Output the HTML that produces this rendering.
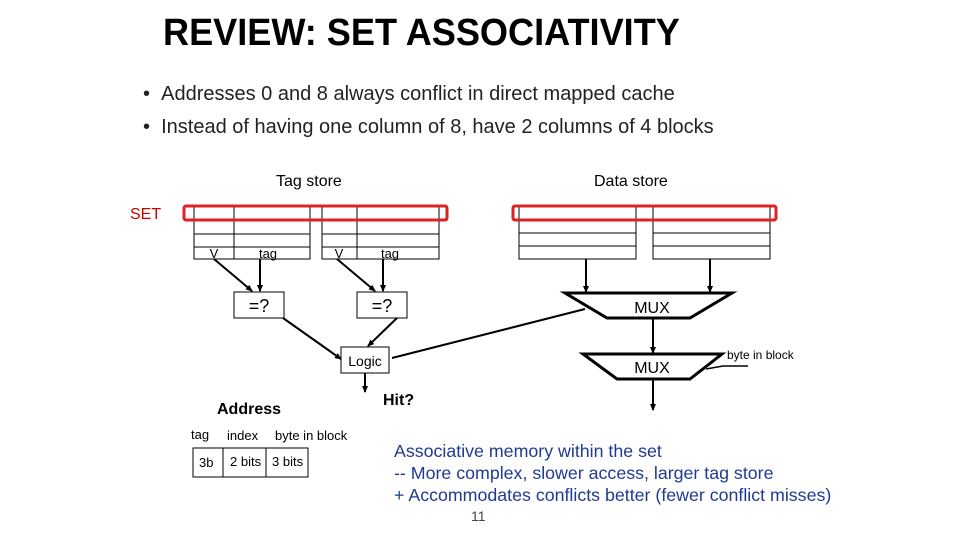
<!DOCTYPE html>
<html><head><style>
body{margin:0;width:960px;height:540px;background:#fff;overflow:hidden;position:relative;font-family:"Liberation Sans",sans-serif}
.t{position:absolute;white-space:nowrap}
</style></head><body>
<div class="t" style="left:163px;top:12px;font-size:38px;font-weight:bold;transform:scaleX(0.95);transform-origin:0 0">REVIEW: SET ASSOCIATIVITY</div>
<div class="t" style="left:143px;top:83px;font-size:20px;color:#222">•&nbsp;&nbsp;Addresses 0 and 8 always conflict in direct mapped cache</div>
<div class="t" style="left:143px;top:116px;font-size:20px;color:#222">•&nbsp;&nbsp;Instead of having one column of 8, have 2 columns of 4 blocks</div>
<svg width="960" height="540" style="position:absolute;left:0;top:0" font-family="Liberation Sans,sans-serif">
<defs><marker id="a" markerWidth="8" markerHeight="8" refX="6" refY="4" orient="auto" markerUnits="userSpaceOnUse"><path d="M0,1 L7,4 L0,7z" fill="#000"/></marker></defs>
<text x="276" y="186" font-size="16">Tag store</text>
<text x="594" y="186" font-size="16">Data store</text>
<text x="130" y="219" font-size="16" fill="#c00">SET</text>
<g stroke="#000" stroke-width="1" fill="none">
<rect x="194" y="207" width="116" height="52"/><line x1="234" y1="207" x2="234" y2="259"/>
<line x1="194" y1="221" x2="310" y2="221"/><line x1="194" y1="234" x2="310" y2="234"/><line x1="194" y1="247" x2="310" y2="247"/>
<rect x="322" y="207" width="117" height="52"/><line x1="357" y1="207" x2="357" y2="259"/>
<line x1="322" y1="221" x2="439" y2="221"/><line x1="322" y1="234" x2="439" y2="234"/><line x1="322" y1="247" x2="439" y2="247"/>
<rect x="519" y="207" width="117" height="52"/><line x1="519" y1="221" x2="636" y2="221"/><line x1="519" y1="233" x2="636" y2="233"/><line x1="519" y1="246" x2="636" y2="246"/>
<rect x="653" y="207" width="117" height="52"/><line x1="653" y1="221" x2="770" y2="221"/><line x1="653" y1="233" x2="770" y2="233"/><line x1="653" y1="246" x2="770" y2="246"/>
<rect x="234" y="292" width="50" height="26"/><rect x="357" y="292" width="50" height="26"/>
<rect x="341" y="347" width="48" height="26"/>
<rect x="193" y="448" width="115" height="29"/><line x1="223" y1="448" x2="223" y2="477"/><line x1="266" y1="448" x2="266" y2="477"/>
</g>
<rect x="184" y="206" width="263" height="14" rx="2" fill="none" stroke="#d22" stroke-width="3"/>
<rect x="513" y="206" width="263" height="14" rx="2" fill="none" stroke="#d22" stroke-width="3"/>
<g font-size="13" text-anchor="middle"><text x="214" y="258">V</text><text x="268" y="258">tag</text><text x="339" y="258">V</text><text x="390" y="258">tag</text></g>
<g font-size="18" text-anchor="middle"><text x="259" y="312">=?</text><text x="382" y="312">=?</text></g>
<text x="365" y="366" font-size="14" text-anchor="middle">Logic</text>
<g stroke="#000" stroke-width="2" fill="none" marker-end="url(#a)">
<line x1="214" y1="259" x2="252" y2="291"/><line x1="260" y1="259" x2="260" y2="291"/>
<line x1="337" y1="259" x2="375" y2="291"/><line x1="383" y1="259" x2="383" y2="291"/>
<line x1="283" y1="318" x2="341" y2="359"/><line x1="397" y1="318" x2="368" y2="346"/>
<line x1="365" y1="373" x2="365" y2="392"/>
<line x1="586" y1="259" x2="586" y2="292"/><line x1="710" y1="259" x2="710" y2="292"/>
<line x1="653" y1="318" x2="653" y2="353"/><line x1="653" y1="379" x2="653" y2="410"/>
</g>
<line x1="392" y1="358" x2="585" y2="309" stroke="#000" stroke-width="2"/>
<polygon points="565,293 732,293 690,318 607,318" fill="#fff" stroke="#000" stroke-width="3"/>
<polygon points="583,354 722,354 690,379 617,379" fill="#fff" stroke="#000" stroke-width="3"/>
<g font-size="16" text-anchor="middle"><text x="652" y="313">MUX</text><text x="652" y="373">MUX</text></g>
<polyline points="706,369 723,366 748,366" fill="none" stroke="#000" stroke-width="1.5"/>
<text x="727" y="359" font-size="12">byte in block</text>
<text x="383" y="405" font-size="16" font-weight="bold">Hit?</text>
<text x="217" y="414" font-size="16" font-weight="bold">Address</text>
<g font-size="13"><text x="191" y="439">tag</text><text x="227" y="440">index</text><text x="275" y="440">byte in block</text>
<text x="199" y="467">3b</text><text x="230" y="466">2 bits</text><text x="272" y="466">3 bits</text></g>
<g font-size="17.8" fill="#1f3a93"><text x="394" y="457">Associative memory within the set</text>
<text x="394" y="479">-- More complex, slower access, larger tag store</text>
<text x="394" y="501">+ Accommodates conflicts better (fewer conflict misses)</text></g>
<text x="471" y="521" font-size="14" fill="#444">11</text>
</svg>
</body></html>
